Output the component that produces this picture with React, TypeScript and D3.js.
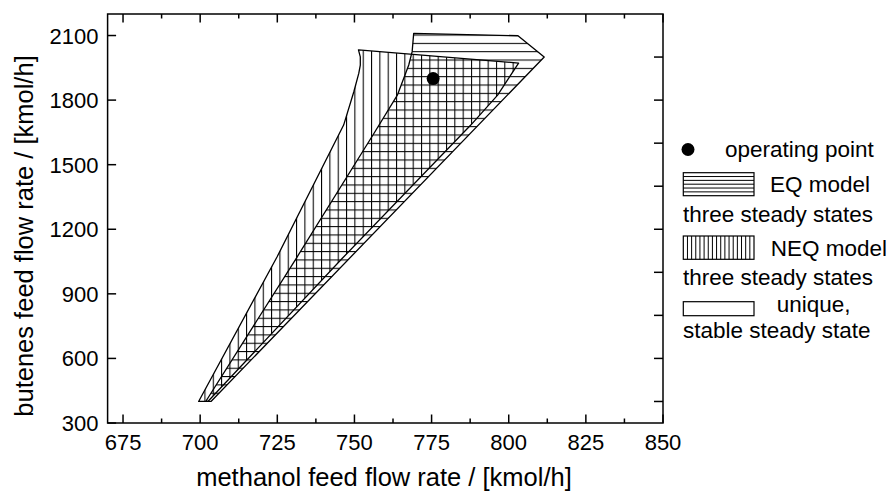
import React from "react";
import * as d3 from "d3";

// Axis ticks
const xMajorTicks = [675, 700, 725, 750, 775, 800, 825, 850];
const xMinorTicks = [687.5, 712.5, 737.5, 762.5, 787.5, 812.5, 837.5];
const yMajorTicks = [300, 600, 900, 1200, 1500, 1800, 2100];
const yRightTicks = [400, 600, 800, 1000, 1200, 1400, 1600, 1800, 2000];

// Region with three steady states, equilibrium (EQ) model, traced as a closed outline
const eqRegionX = [769.2, 803.0, 811.5, 703.5, 701.8, 731.4, 756.3, 763.9, 767.6, 768.7];
const eqRegionY = [2110, 2099, 2000, 400, 400, 1071, 1645, 1823, 1963, 2025];

// Region with three steady states, non-equilibrium (NEQ) model
const neqRegionX = [751.3, 803.2, 800.0, 796.4, 787.7, 746.0, 702.5, 699.5, 724.9, 746.5, 749.8, 751.4, 751.9, 751.9];
const neqRegionY = [2033, 1972, 1902, 1823, 1684, 1064, 400, 400, 1071, 1684, 1839, 1924, 1963, 2001];

// Operating point
const opX = [775.5];
const opY = [1900];

const legendLabels = [
  "operating point",
  "EQ model",
  "three steady states",
  "NEQ model",
  "three steady states",
  "unique,",
  "stable steady state",
];

const W = 890;
const H = 495;
const FONT = "'Liberation Sans', Arial, Helvetica, sans-serif";

export default function App() {
  const x = d3.scaleLinear().domain([670, 850]).range([107.6, 663]);
  const y = d3.scaleLinear().domain([300, 2200]).range([423, 14]);
  const [x0, x1] = x.range();
  const [yb, yt] = y.range();

  const line = d3
    .line<[number, number]>()
    .x((d) => x(d[0]))
    .y((d) => y(d[1]))
    .curve(d3.curveLinearClosed);

  const eqPts = eqRegionX.map((v, i) => [v, eqRegionY[i]] as [number, number]);
  const neqPts = neqRegionX.map((v, i) => [v, neqRegionY[i]] as [number, number]);
  const eqPath = line(eqPts) || "";
  const neqPath = line(neqPts) || "";

  const hatch = 8.33;
  const majorLen = 8.5;
  const minorLen = 4.5;

  // legend geometry
  const lgX = 683.3;
  const boxW = 70.7;
  const eqBox = { y: 172.7, h: 23 };
  const neqBox = { y: 236, h: 23.3 };
  const uniBox = { y: 301.7, h: 14 };
  const eqLines = d3.range(1, 6).map((i) => eqBox.y + (eqBox.h * i) / 6);
  const neqLines = d3.range(1, 17).map((i) => lgX + (boxW * i) / 17);

  return (
    <svg
      width={W}
      height={H}
      style={{ position: "absolute", left: 0, top: 0, background: "#fff" }}
      fontFamily={FONT}
    >
      <defs>
        <pattern id="vhatch" patternUnits="userSpaceOnUse" width={hatch} height={hatch} x={4.5} y={0}>
          <line x1={0.5} x2={0.5} y1={0} y2={hatch} stroke="#000" strokeWidth={1.1} />
        </pattern>
        <pattern id="hhatch" patternUnits="userSpaceOnUse" width={hatch} height={hatch} x={0} y={1.2}>
          <line x1={0} x2={hatch} y1={0.5} y2={0.5} stroke="#000" strokeWidth={1.1} />
        </pattern>
      </defs>

      <rect x={0} y={0} width={W} height={H} fill="#fff" />

      {/* hatched regions; overlap reads as cross-hatch */}
      <path d={neqPath} fill="url(#vhatch)" stroke="none" />
      <path d={eqPath} fill="url(#hhatch)" stroke="none" />
      <path d={neqPath} fill="none" stroke="#000" strokeWidth={1.3} strokeLinejoin="round" />
      <path d={eqPath} fill="none" stroke="#000" strokeWidth={1.3} strokeLinejoin="round" />

      {/* operating point */}
      {opX.map((v, i) => (
        <circle key={i} cx={x(v)} cy={y(opY[i])} r={6.5} fill="#000" />
      ))}

      {/* frame */}
      <rect x={x0} y={yt} width={x1 - x0} height={yb - yt} fill="none" stroke="#000" strokeWidth={1.5} />

      {/* x ticks, bottom and top, pointing inward */}
      {xMajorTicks.map((t) => (
        <g key={"xm" + t}>
          <line x1={x(t)} x2={x(t)} y1={yb} y2={yb - majorLen} stroke="#000" strokeWidth={1.5} />
          <line x1={x(t)} x2={x(t)} y1={yt} y2={yt + majorLen} stroke="#000" strokeWidth={1.5} />
          <text x={x(t)} y={450} textAnchor="middle" fontSize={22} fill="#000">
            {t}
          </text>
        </g>
      ))}
      {xMinorTicks.map((t) => (
        <g key={"xn" + t}>
          <line x1={x(t)} x2={x(t)} y1={yb} y2={yb - minorLen} stroke="#000" strokeWidth={1.5} />
          <line x1={x(t)} x2={x(t)} y1={yt} y2={yt + minorLen} stroke="#000" strokeWidth={1.5} />
        </g>
      ))}

      {/* y ticks: labelled on the left, plain on the right */}
      {yMajorTicks.map((t) => (
        <g key={"ym" + t}>
          <line x1={x0} x2={x0 + majorLen} y1={y(t)} y2={y(t)} stroke="#000" strokeWidth={1.5} />
          <text x={98.5} y={y(t) + 8} textAnchor="end" fontSize={22} fill="#000">
            {t}
          </text>
        </g>
      ))}
      {yRightTicks.map((t) => (
        <line key={"yr" + t} x1={x1} x2={x1 - 9} y1={y(t)} y2={y(t)} stroke="#000" strokeWidth={1.5} />
      ))}

      {/* axis titles */}
      <text x={384} y={486} textAnchor="middle" fontSize={25.5} fill="#000">
        methanol feed flow rate / [kmol/h]
      </text>
      <text
        transform={`translate(33,236) rotate(-90)`}
        textAnchor="middle"
        fontSize={25.5}
        fill="#000"
      >
        butenes feed flow rate / [kmol/h]
      </text>

      {/* legend */}
      <circle cx={688} cy={149.5} r={6.5} fill="#000" />
      <text x={725} y={157} fontSize={22.5} fill="#000">
        {legendLabels[0]}
      </text>

      <rect x={lgX} y={eqBox.y} width={boxW} height={eqBox.h} fill="#fff" stroke="#000" strokeWidth={1.2} />
      {eqLines.map((ly, i) => (
        <line key={"el" + i} x1={lgX} x2={lgX + boxW} y1={ly} y2={ly} stroke="#000" strokeWidth={1} />
      ))}
      <text x={770} y={192.3} fontSize={22.5} fill="#000">
        {legendLabels[1]}
      </text>
      <text x={683} y={221.7} fontSize={22.5} fill="#000">
        {legendLabels[2]}
      </text>

      <rect x={lgX} y={neqBox.y} width={boxW} height={neqBox.h} fill="#fff" stroke="#000" strokeWidth={1.2} />
      {neqLines.map((lx, i) => (
        <line key={"nl" + i} x1={lx} x2={lx} y1={neqBox.y} y2={neqBox.y + neqBox.h} stroke="#000" strokeWidth={1} />
      ))}
      <text x={770.7} y={256} fontSize={22.5} fill="#000">
        {legendLabels[3]}
      </text>
      <text x={683} y={285} fontSize={22.5} fill="#000">
        {legendLabels[4]}
      </text>

      <rect x={lgX} y={uniBox.y} width={boxW} height={uniBox.h} fill="#fff" stroke="#000" strokeWidth={1.2} />
      <text x={776.7} y={312.3} fontSize={22.5} fill="#000">
        {legendLabels[5]}
      </text>
      <text x={683} y={338.3} fontSize={22.5} fill="#000">
        {legendLabels[6]}
      </text>
    </svg>
  );
}
